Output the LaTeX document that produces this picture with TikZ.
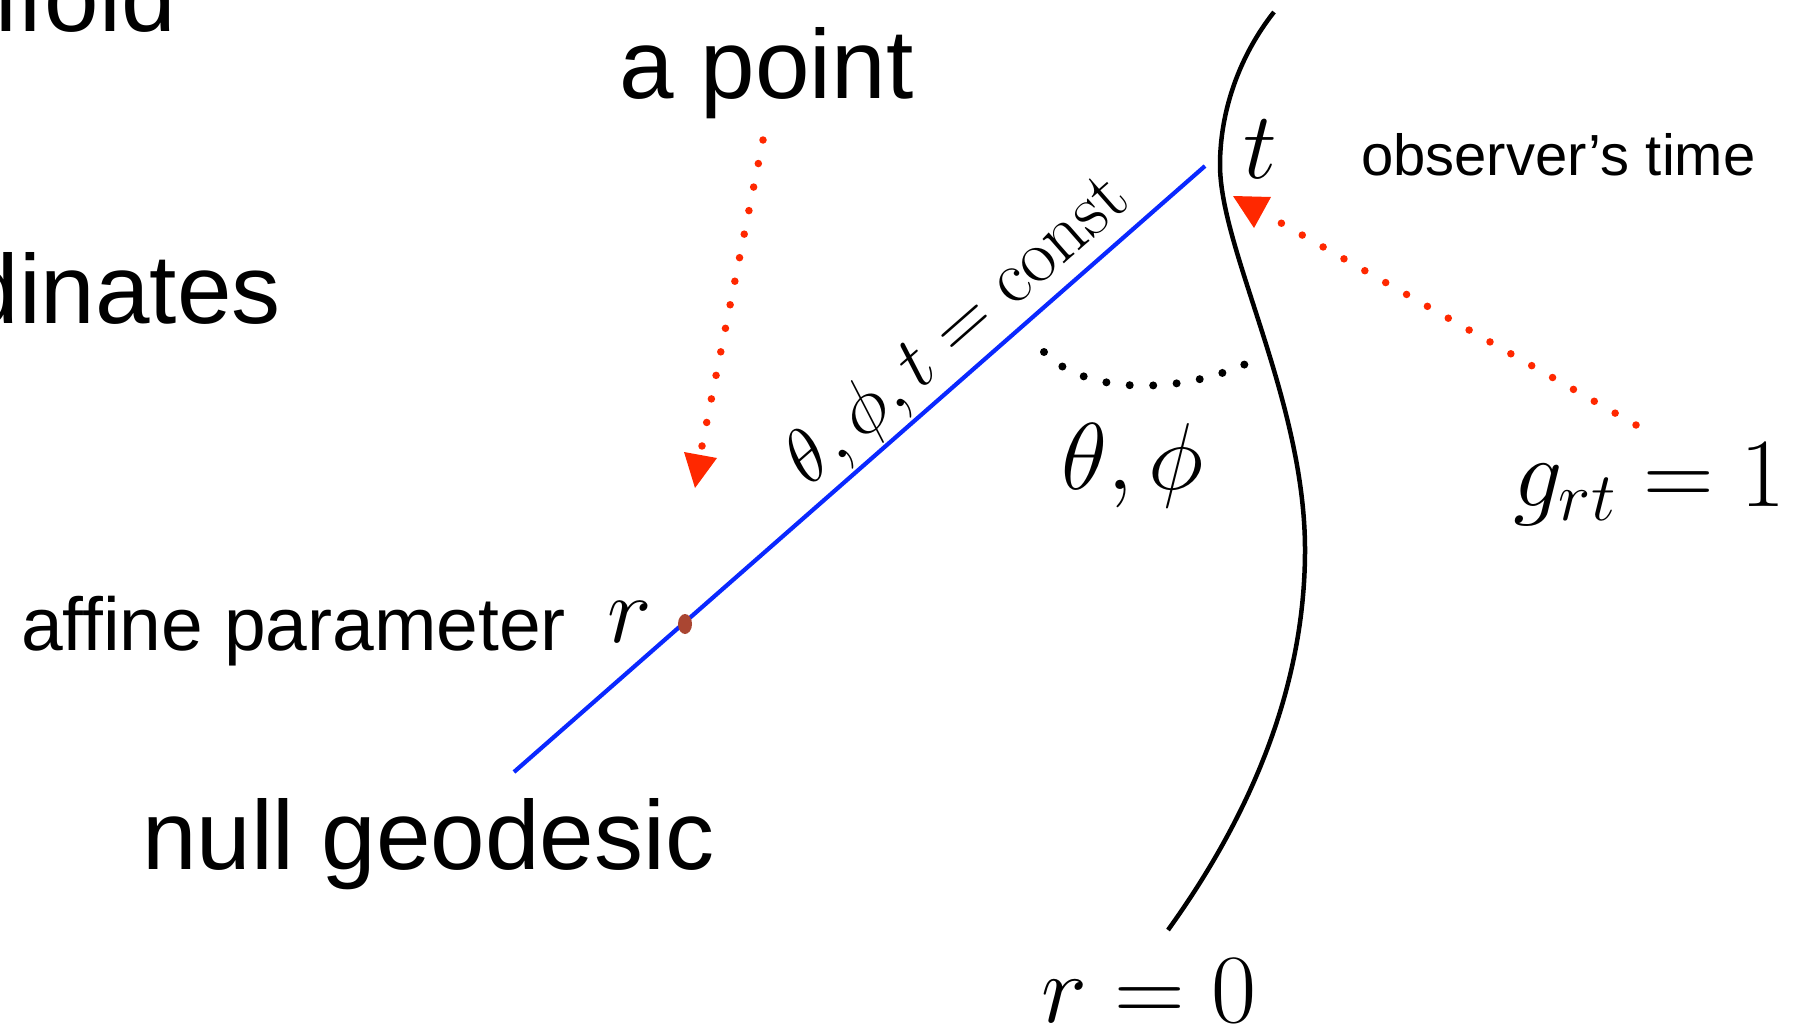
\RequirePackage{fix-cm}
\documentclass[tikz,border=0pt]{standalone}
\usepackage[no-math]{fontspec}
\setmainfont{Liberation Sans}[Ligatures=NoCommon]
\usetikzlibrary{arrows.meta,shapes.geometric}
\definecolor{geoblue}{RGB}{10,40,255}
\definecolor{arrowred}{RGB}{255,40,0}
\definecolor{dotbrown}{RGB}{170,70,50}
\tikzset{
  txtbig/.style={font=\fontsize{98}{110}\selectfont, inner sep=0pt, text=black},
  txtmid/.style={font=\fontsize{75}{86}\selectfont, inner sep=0pt, text=black},
  txtsmall/.style={font=\fontsize{58}{66}\selectfont, inner sep=0pt, text=black},
  mathbig/.style={font=\fontsize{95}{105}\selectfont, inner sep=0pt, text=black},
  mathwide/.style={font=\fontsize{98}{108}\selectfont, inner sep=0pt, text=black},
  mathlab/.style={font=\fontsize{76}{86}\selectfont, inner sep=0pt, text=black},
  reddots/.style={draw=arrowred, line width=7.5pt, line cap=round, dash pattern=on 0pt off 24pt},
  blackdots/.style={draw=black, line width=8pt, line cap=round, dash pattern=on 0pt off 23.5pt},
  headred/.style={fill=arrowred, draw=none},
}
\begin{document}
\begin{tikzpicture}[x=1pt,y=-1pt]
\clip (0,0) rectangle (1804,1033);
\fill[white] (0,0) rectangle (1804,1033);

% texts
\node[txtbig, anchor=base east] (manifold) at (176,32) {manifold};
\node[txtbig, anchor=base east] (coords) at (281,323) {coordinates};
\node[txtbig, anchor=base west] (apoint) at (619,98) {a point};
\node[txtsmall, anchor=base west] (obs) at (1361,175) {observer’s time};
\node[txtmid, anchor=base west] (affine) at (21,650) {affine parameter};
\node[txtbig, anchor=base west] (nullgeo) at (142,869) {null geodesic};
\node[mathbig, anchor=base west] (tlab) at (1243,178) {$t$};
\node[mathbig, anchor=base west] (rlab) at (607,642) {$r$};
\node[mathbig, anchor=base west] (angles) at (1061,489) {$\theta,\phi$};
\node[mathwide, anchor=base east] (grt) at (1786,506) {$g_{rt}=1$};
\node[mathwide, anchor=base west] (rzero) at (1041,1022) {$r=0$};

% observer world line
\draw[line width=4.5pt] (1274,12) .. controls (1240,55) and (1220,110) .. (1220,165)
  .. controls (1220,250) and (1305,400) .. (1305,550)
  .. controls (1305,700) and (1240,830) .. (1168,930);

% null geodesic
\coordinate (gA) at (514,772);
\coordinate (gB) at (1205,166);
\draw[geoblue, line width=4.2pt] (gA) -- node[mathlab, sloped, above=2pt, pos=0.68] (constlab) {$\theta,\phi,t=\mathrm{const}$} (gB);

% point on geodesic
\node[ellipse, fill=dotbrown, draw=none, minimum width=14pt, minimum height=20pt, inner sep=0pt] (pt) at (685,624) {};

% angle dotted arc
\coordinate (arcA) at (1044,352);
\coordinate (arcB) at (1250,362);
\draw[blackdots] (arcA) .. controls (1085,395) and (1180,395) .. (arcB);

% red arrow from "a point"
\coordinate (a1s) at (763,140);
\coordinate (a1e) at (702,446);
\draw[reddots] (a1s) -- (a1e);
\fill[headred] (684,452) -- (717,458) -- (695,488) -- cycle;

% red arrow from g_rt
\coordinate (a2s) at (1636,425);
\coordinate (a2e) at (1281,223);
\draw[reddots] (a2s) -- (a2e);
\fill[headred] (1233,196) -- (1271,197) -- (1254,228) -- cycle;
\end{tikzpicture}
\end{document}
